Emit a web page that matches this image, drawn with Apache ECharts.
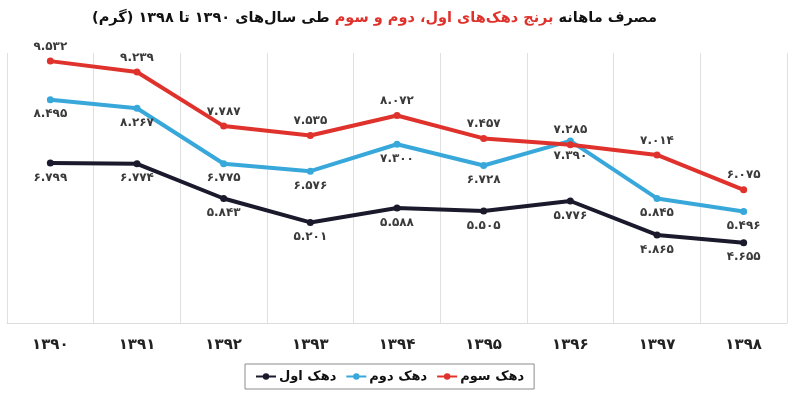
<!DOCTYPE html>
<html>
<head>
<meta charset="utf-8">
<script src="https://cdn.jsdelivr.net/npm/echarts@6/dist/echarts.min.js"></script>
<style>
html,body{margin:0;padding:0;background:#fff;}
#c{width:796px;height:401px;}
</style>
</head>
<body>
<div id="c" dir="rtl"></div>
<script>
const categories = ['۱۳۹۰','۱۳۹۱','۱۳۹۲','۱۳۹۳','۱۳۹۴','۱۳۹۵','۱۳۹۶','۱۳۹۷','۱۳۹۸'];
const decile1 = [6.799, 6.774, 5.843, 5.201, 5.588, 5.505, 5.776, 4.865, 4.655];
const decile2 = [8.495, 8.267, 6.775, 6.576, 7.300, 6.728, 7.390, 5.845, 5.496];
const decile3 = [9.532, 9.239, 7.787, 7.535, 8.072, 7.457, 7.285, 7.014, 6.075];
const seriesNames = ['دهک اول', 'دهک دوم', 'دهک سوم'];

const FONT = 'DejaVu Sans';
const fa = s => s.replace(/[0-9]/g, d => '۰۱۲۳۴۵۶۷۸۹'[d]);
const fmt = p => fa(p.value.toFixed(3));

function mk(name, data, color, pos) {
  return {
    name: name, type: 'line', data: data,
    symbol: 'circle', symbolSize: 7,
    itemStyle: {color: color},
    lineStyle: {color: color, width: 4},
    label: {show: true, position: pos, distance: 5, formatter: fmt,
      fontFamily: FONT, fontSize: 12, fontWeight: 'bold', color: '#3a3a3a'}
  };
}

const chart = echarts.init(document.getElementById('c'), null, {renderer: 'canvas'});
chart.setOption({
  backgroundColor: '#fff',
  animation: false,
  title: {
    left: 92, top: 9, padding: 0,
    text: '{b|طی سال‌های ۱۳۹۰ تا ۱۳۹۸ (گرم)}{s|}{r|برنج دهک‌های اول، دوم و سوم}{s|}{b|مصرف ماهانه}',
    textStyle: {
      rich: {
        b: {fontFamily: FONT, fontSize: 14.5, fontWeight: 'bold', color: '#111'},
        r: {fontFamily: FONT, fontSize: 14.5, fontWeight: 'bold', color: '#e0322c'},
        s: {width: 5}
      }
    }
  },
  legend: {
    data: seriesNames,
    left: 245, top: 364,
    borderColor: '#8c8c8c', borderWidth: 1, padding: [6, 10],
    itemGap: 9, itemWidth: 20, itemHeight: 8,
    textStyle: {fontFamily: FONT, fontSize: 13, fontWeight: 'bold', color: '#111', padding: [0, 0, 0, -2]}
  },
  grid: {left: 7, right: 9, top: 53, bottom: 78},
  xAxis: {
    type: 'category', data: categories, boundaryGap: true,
    axisLine: {show: true, lineStyle: {color: '#dcdcdc', width: 1}},
    axisTick: {show: false},
    splitLine: {show: true, lineStyle: {color: '#e0e0e0', width: 1}},
    axisLabel: {fontFamily: FONT, fontSize: 15, fontWeight: 'bold', color: '#222', margin: 15}
  },
  yAxis: {
    type: 'value', min: 2.5, max: 9.75, show: false,
    splitLine: {show: false}
  },
  series: [
    mk(seriesNames[0], decile1, '#1a1a2c', 'bottom'),
    mk(seriesNames[1], decile2, '#38a8da', 'bottom'),
    mk(seriesNames[2], decile3, '#e0322c', 'top')
  ]
});
</script>
</body>
</html>
